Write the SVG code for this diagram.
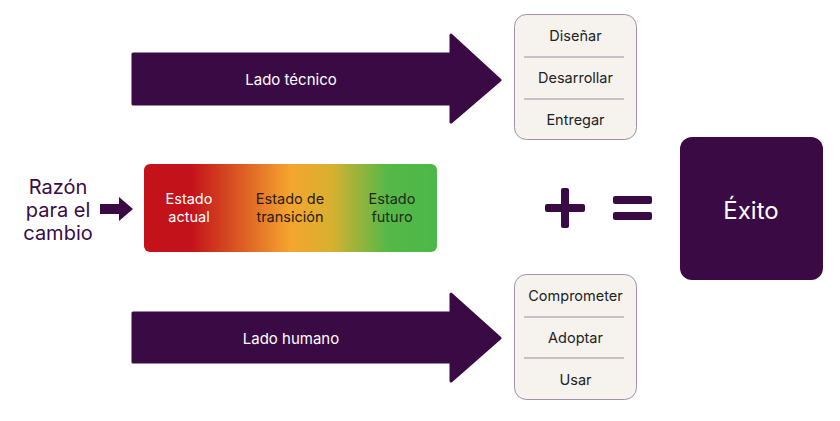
<svg xmlns="http://www.w3.org/2000/svg" width="840" height="421" viewBox="0 0 840 421">
<defs>
<style>
text{font-family:Inter,"Liberation Sans",sans-serif;text-anchor:middle}
.dark{fill:#3a0a45}
.lbl{fill:#ffffff;font-size:15px}
.box{fill:#f6f3ee;stroke:#a38ea8;stroke-width:1}
.div{stroke:#9d8aa2;stroke-width:1}
.item{fill:#222222;font-size:14.5px}
.st{font-size:14.5px}
</style>
<linearGradient id="grad" x1="144" y1="0" x2="437" y2="0" gradientUnits="userSpaceOnUse">
<stop offset="0" stop-color="#c4121a"/>
<stop offset="0.16" stop-color="#c4121a"/>
<stop offset="0.5" stop-color="#f4a52e"/>
<stop offset="0.64" stop-color="#d8b030"/>
<stop offset="0.83" stop-color="#55b848"/>
<stop offset="1" stop-color="#4cb848"/>
</linearGradient>
</defs>
<rect width="840" height="421" fill="#ffffff"/>
<g id="connectors">
<path id="arrow-small" class="dark" d="M100,204 H119 V197 L133,209 L119,221 V214 H100 Z"/>
</g>
<g id="lado-tecnico">
<path class="dark" stroke="#3a0a45" stroke-width="3" stroke-linejoin="round" d="M133,54 H451 V35 L500,80 L451,122 V104 H133 Z"/>
<text class="lbl" x="291" y="85">Lado técnico</text>
</g>
<g id="lado-humano">
<path class="dark" stroke="#3a0a45" stroke-width="3" stroke-linejoin="round" d="M133,313 H451 V294 L500,338 L451,381 V362 H133 Z"/>
<text class="lbl" x="291" y="344">Lado humano</text>
</g>
<g id="tecnico-list">
<rect class="box" x="514.5" y="14.5" width="122" height="125" rx="12"/>
<line class="div" x1="524" y1="57" x2="624" y2="57"/>
<line class="div" x1="524" y1="99" x2="624" y2="99"/>
<text class="item" x="575.5" y="41">Diseñar</text>
<text class="item" x="575.5" y="83">Desarrollar</text>
<text class="item" x="575.5" y="125">Entregar</text>
</g>
<g id="humano-list">
<rect class="box" x="514.5" y="274.5" width="122" height="125" rx="12"/>
<line class="div" x1="524" y1="317" x2="624" y2="317"/>
<line class="div" x1="524" y1="358" x2="624" y2="358"/>
<text class="item" x="575.5" y="301">Comprometer</text>
<text class="item" x="575.5" y="343">Adoptar</text>
<text class="item" x="575.5" y="385">Usar</text>
</g>
<g id="razon">
<text class="dark" font-size="20" x="58" y="194">Razón</text>
<text class="dark" font-size="20" x="58" y="217">para el</text>
<text class="dark" font-size="20" x="58" y="240">cambio</text>
</g>
<g id="estados">
<rect x="144" y="164" width="293" height="88" rx="6" fill="url(#grad)"/>
<text class="st" fill="#ffffff" x="189" y="204">Estado</text>
<text class="st" fill="#ffffff" x="189" y="222">actual</text>
<text class="st" fill="#2a1a1a" x="290" y="204">Estado de</text>
<text class="st" fill="#2a1a1a" x="290" y="222">transición</text>
<text class="st" fill="#1e2a1a" x="392" y="204">Estado</text>
<text class="st" fill="#1e2a1a" x="392" y="222">futuro</text>
</g>
<g id="plus">
<rect class="dark" x="545" y="204" width="40" height="8" rx="2"/>
<rect class="dark" x="561" y="188" width="8" height="40" rx="2"/>
</g>
<g id="equals">
<rect class="dark" x="613" y="196" width="39" height="8" rx="2"/>
<rect class="dark" x="613" y="212" width="39" height="8" rx="2"/>
</g>
<g id="exito">
<rect class="dark" x="680" y="137" width="143" height="143" rx="12"/>
<text fill="#ffffff" font-size="24" x="751" y="219">Éxito</text>
</g>
</svg>
